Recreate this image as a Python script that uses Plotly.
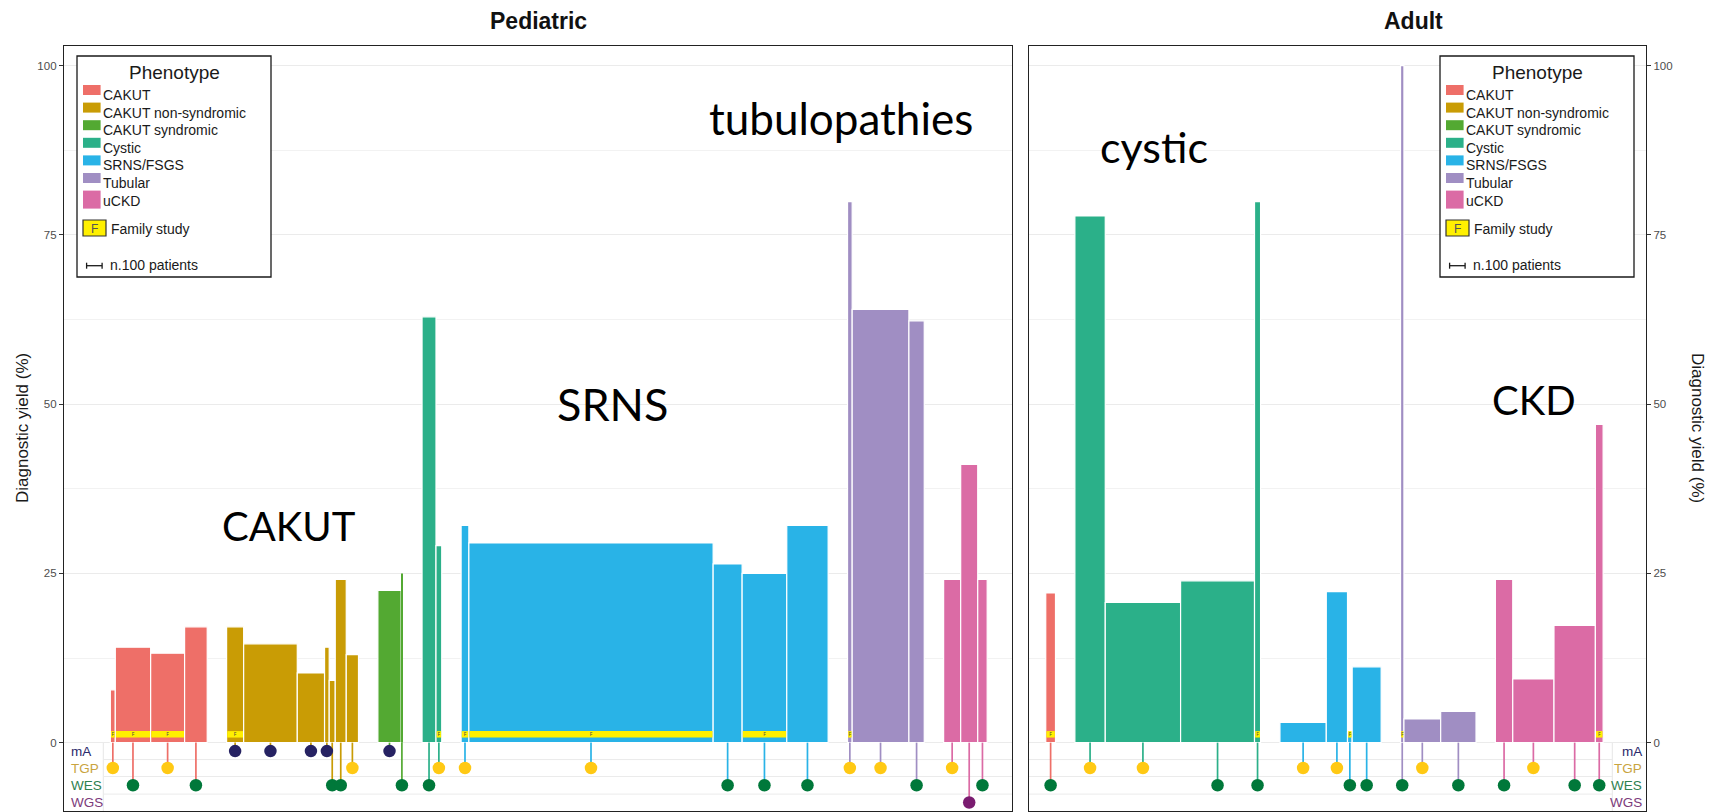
import plotly.graph_objects as go

W, H = 1717, 812

# ---------------- data ----------------
phenotypes = ["CAKUT", "CAKUT non-syndromic", "CAKUT syndromic", "Cystic",
              "SRNS/FSGS", "Tubular", "uCKD"]
pheno_colors = ["#EE6F68", "#C99C05", "#53A932", "#2BB089",
                "#29B3E7", "#A08EC3", "#DB6BA5"]

methods = ["mA", "TGP", "WES", "WGS"]
method_colors = ["#262262", "#FFC914", "#00783A", "#7A1C70"]
method_label_colors = ["#2B2A6B", "#C9A43F", "#2E8050", "#7C3A7B"]
method_rows = [-1.25, -3.75, -6.3, -8.85]

# Pediatric studies (in plotting order)
ped_pheno = (["CAKUT"] * 4 + ["CAKUT non-syndromic"] * 7 + ["CAKUT syndromic"] * 2 +
             ["Cystic"] * 2 + ["SRNS/FSGS"] * 5 + ["Tubular"] * 3 + ["uCKD"] * 3)
ped_n = [32, 228, 219, 146,
         110, 346, 176, 30, 39, 71, 79,
         150, 10,
         90, 37,
         50, 1576, 187, 288, 267,
         30, 366, 99,
         110, 110, 61]
ped_yield = [7.8, 14.1, 13.2, 17.1,
             17.1, 14.6, 10.3, 14.1, 9.2, 24.1, 13.0,
             22.5, 25.0,
             62.9, 29.1,
             32.1, 29.5, 26.4, 25.0, 32.1,
             79.9, 64.0, 62.3,
             24.1, 41.1, 24.1]
ped_method = ["TGP", "WES", "TGP", "WES",
              "mA", "mA", "mA", "mA", "WES", "WES", "TGP",
              "mA", "WES",
              "WES", "TGP",
              "TGP", "TGP", "WES", "WES", "WES",
              "TGP", "TGP", "WES",
              "TGP", "WGS", "WES"]
ped_family = [1, 1, 1, 0,
              1, 0, 0, 0, 0, 0, 0,
              0, 0,
              0, 1,
              1, 1, 0, 1, 0,
              1, 0, 0,
              0, 0, 0]

# Adult studies
adult_pheno = (["CAKUT"] * 1 + ["Cystic"] * 4 + ["SRNS/FSGS"] * 4 +
               ["Tubular"] * 3 + ["uCKD"] * 4)
adult_n = [63,
           196, 486, 477, 39,
           299, 137, 30, 187,
           22, 237, 228,
           112, 266, 267, 50]
adult_yield = [22.1,
               77.8, 20.7, 23.9, 79.9,
               3.0, 22.3, 1.5, 11.2,
               100.0, 3.5, 4.6,
               24.1, 9.4, 17.3, 47.0]
adult_method = ["WES",
                "TGP", "TGP", "WES", "WES",
                "TGP", "TGP", "WES", "WES",
                "WES", "TGP", "WES",
                "WES", "TGP", "WES", "WES"]
adult_family = [1,
                0, 0, 0, 1,
                0, 0, 1, 0,
                1, 0, 0,
                0, 0, 0, 1]

annot_texts = ["CAKUT", "SRNS", "tubulopathies", "cystic", "CKD"]

# ---------------- layout constants ----------------
PX_PER_PATIENT = 0.155
GROUP_GAP = 125  # patients-units spacing between phenotype groups
Y_RANGE = [-10.1, 102.9]

panels = [
    dict(title="Pediatric", pheno=ped_pheno, n=ped_n, yld=ped_yield,
         meth=ped_method, fam=ped_family, xa="x", ya="y",
         px0=64, px1=1012, lead=299, labels_side="left"),
    dict(title="Adult", pheno=adult_pheno, n=adult_n, yld=adult_yield,
         meth=adult_method, fam=adult_family, xa="x2", ya="y2",
         px0=1029, px1=1646, lead=108, labels_side="right"),
]


def pxx(v):
    return v / W


def pxy(v):
    return 1 - v / H


def lefts_of(phenos, ns):
    out, x, prev = [], 0.0, None
    for p, n in zip(phenos, ns):
        if prev is not None and p != prev:
            x += GROUP_GAP
        out.append(x)
        x += n
        prev = p
    return out


fig = go.Figure()
shapes, annotations = [], []

for pn in panels:
    ls = lefts_of(pn["pheno"], pn["n"])
    cs = [l + n / 2 for l, n in zip(ls, pn["n"])]
    cols = [pheno_colors[phenotypes.index(p)] for p in pn["pheno"]]
    lw = [1.2 if n * PX_PER_PATIENT >= 3 else 0 for n in pn["n"]]
    # stems
    for ph, col in zip(phenotypes, pheno_colors):
        xs, ys = [], []
        for c, p, m in zip(cs, pn["pheno"], pn["meth"]):
            if p == ph:
                xs += [c, c, None]
                ys += [0, method_rows[methods.index(m)], None]
        if xs:
            fig.add_trace(go.Scatter(x=xs, y=ys, mode="lines",
                                     line=dict(color=col, width=1.7),
                                     xaxis=pn["xa"], yaxis=pn["ya"],
                                     hoverinfo="skip"))
    # bars
    fig.add_trace(go.Bar(x=cs, y=pn["yld"], base=0, width=pn["n"],
                         marker=dict(color=cols, line=dict(color="white", width=lw)),
                         xaxis=pn["xa"], yaxis=pn["ya"]))
    # family-study bands
    fx = [c for c, f in zip(cs, pn["fam"]) if f]
    fw = [max(n - 8, n * 0.5) for n, f in zip(pn["n"], pn["fam"]) if f]
    fig.add_trace(go.Bar(x=fx, y=[0.95] * len(fx), base=[0.75] * len(fx), width=fw,
                         marker=dict(color="#FFF000", line=dict(width=0)),
                         xaxis=pn["xa"], yaxis=pn["ya"]))
    fig.add_trace(go.Scatter(x=fx, y=[1.2] * len(fx), mode="text", text=["F"] * len(fx),
                             textfont=dict(size=5, color="#444"),
                             xaxis=pn["xa"], yaxis=pn["ya"], hoverinfo="skip"))
    # dots
    for m, mc in zip(methods, method_colors):
        xs = [c for c, mm in zip(cs, pn["meth"]) if mm == m]
        if xs:
            fig.add_trace(go.Scatter(x=xs, y=[method_rows[methods.index(m)]] * len(xs),
                                     mode="markers",
                                     marker=dict(color=mc, size=12.5, line=dict(width=0)),
                                     xaxis=pn["xa"], yaxis=pn["ya"], hoverinfo="skip"))
    # strip row lines and labels
    if pn["labels_side"] == "left":
        sep = pn["px0"] + 39.3
        lx0, lx1 = sep, pn["px1"]
    else:
        sep = pn["px1"] - 33.7
        lx0, lx1 = pn["px0"], sep
    shapes.append(dict(type="line", xref="paper", yref=pn["ya"], x0=pxx(sep), x1=pxx(sep),
                       y0=0, y1=Y_RANGE[0], line=dict(color="#e6e6e6", width=1), layer="below"))
    for yb in [-2.5, -5.0, -7.6]:
        shapes.append(dict(type="line", xref="paper", yref=pn["ya"], x0=pxx(lx0), x1=pxx(lx1),
                           y0=yb, y1=yb, line=dict(color="#ebebeb", width=1), layer="below"))
    for m, lc, ry in zip(methods, method_label_colors, method_rows):
        if pn["labels_side"] == "left":
            annotations.append(dict(x=pxx(pn["px0"] + 5), y=ry, xref="paper", yref=pn["ya"],
                                    text=m, showarrow=False, xanchor="left", yanchor="middle",
                                    font=dict(family="Liberation Sans", size=13.5, color=lc)))
        else:
            annotations.append(dict(x=pxx(pn["px1"] - 2), y=ry, xref="paper", yref=pn["ya"],
                                    text=m, showarrow=False, xanchor="right", yanchor="middle",
                                    font=dict(family="Liberation Sans", size=13.5, color=lc)))
    # panel title
    tx = {"Pediatric": 538, "Adult": 1413}[pn["title"]]
    annotations.append(dict(x=pxx(tx), y=pxy(21), xref="paper", yref="paper",
                            text="<b>%s</b>" % pn["title"], showarrow=False,
                            xanchor="center", yanchor="middle",
                            font=dict(family="Liberation Sans", size=23, color="#111")))


# ---------------- legends ----------------
def add_legend(bx):
    shapes.append(dict(type="rect", xref="paper", yref="paper", x0=pxx(bx), x1=pxx(bx + 194),
                       y0=pxy(277), y1=pxy(56), line=dict(color="#1a1a1a", width=1.3),
                       fillcolor="white", layer="above"))
    annotations.append(dict(x=pxx(bx + 97), y=pxy(72), xref="paper", yref="paper",
                            text="Phenotype", showarrow=False, xanchor="center", yanchor="middle",
                            font=dict(family="Liberation Sans", size=19, color="#1a1a1a")))
    for i, (ph, col) in enumerate(zip(phenotypes, pheno_colors)):
        top = 85 + 17.6 * i
        hgt = 18 if i == len(phenotypes) - 1 else 10
        shapes.append(dict(type="rect", xref="paper", yref="paper", x0=pxx(bx + 6),
                           x1=pxx(bx + 23.6), y0=pxy(top + hgt), y1=pxy(top),
                           fillcolor=col, line=dict(width=0), layer="above"))
        annotations.append(dict(x=pxx(bx + 23.6), y=pxy(top + 10), xref="paper", yref="paper",
                                text=ph, showarrow=False, xanchor="left", yanchor="middle",
                                font=dict(family="Liberation Sans", size=14, color="#1a1a1a")))
    shapes.append(dict(type="rect", xref="paper", yref="paper", x0=pxx(bx + 6), x1=pxx(bx + 29),
                       y0=pxy(236), y1=pxy(220), fillcolor="#FFF000",
                       line=dict(color="#333", width=1.2), layer="above"))
    annotations.append(dict(x=pxx(bx + 17.5), y=pxy(228.5), xref="paper", yref="paper",
                            text="F", showarrow=False, xanchor="center", yanchor="middle",
                            font=dict(family="Liberation Sans", size=12, color="#555")))
    annotations.append(dict(x=pxx(bx + 32), y=pxy(228.7), xref="paper", yref="paper",
                            text="Family study", showarrow=False, xanchor="left", yanchor="middle",
                            font=dict(family="Liberation Sans", size=14, color="#1a1a1a")))
    sb0 = bx + 9.6
    sb1 = sb0 + 100 * PX_PER_PATIENT
    ys = 265.7
    for (a, b, c, d) in [(sb0, ys, sb1, ys), (sb0, ys - 3, sb0, ys + 3), (sb1, ys - 3, sb1, ys + 3)]:
        shapes.append(dict(type="line", xref="paper", yref="paper", x0=pxx(a), y0=pxy(b),
                           x1=pxx(c), y1=pxy(d), line=dict(color="#1a1a1a", width=1.3),
                           layer="above"))
    annotations.append(dict(x=pxx(bx + 31.3), y=pxy(265), xref="paper", yref="paper",
                            text="n.100 patients", showarrow=False, xanchor="left",
                            yanchor="middle",
                            font=dict(family="Liberation Sans", size=14, color="#1a1a1a")))


add_legend(77)
add_legend(1440)

# ---------------- overlay texts ----------------
overlay_pos = [(289, 526, 40), (612, 404, 45), (841, 118, 44), (1154, 146, 43), (1534, 400, 40)]
for t, (x, y, s) in zip(annot_texts, overlay_pos):
    annotations.append(dict(x=pxx(x), y=pxy(y), xref="paper", yref="paper", text=t,
                            showarrow=False, xanchor="center", yanchor="middle",
                            font=dict(family="Lato", size=s, color="black")))

# axis titles
annotations.append(dict(x=pxx(22), y=pxy(428), xref="paper", yref="paper",
                        text="Diagnostic yield (%)", showarrow=False, textangle=-90,
                        xanchor="center", yanchor="middle",
                        font=dict(family="Liberation Sans", size=17, color="#1a1a1a")))
annotations.append(dict(x=pxx(1698), y=pxy(428), xref="paper", yref="paper",
                        text="Diagnostic yield (%)", showarrow=False, textangle=90,
                        xanchor="center", yanchor="middle",
                        font=dict(family="Liberation Sans", size=17, color="#1a1a1a")))

# ---------------- axes ----------------
common_x = dict(showticklabels=False, ticks="", showgrid=False, zeroline=False,
                showline=True, mirror=True, linecolor="#222", linewidth=1.3)
common_y = dict(range=Y_RANGE, tickvals=[0, 25, 50, 75, 100], ticks="outside", ticklen=4,
                tickcolor="#333", tickfont=dict(family="Liberation Sans", size=11.5, color="#4d4d4d"),
                showgrid=True, gridcolor="#ebebeb", gridwidth=1, zeroline=False,
                showline=True, mirror=True, linecolor="#222", linewidth=1.3,
                minor=dict(tickvals=[12.5, 37.5, 62.5, 87.5], showgrid=True,
                           gridcolor="#f2f2f2", gridwidth=0.8, ticks=""),
                domain=[1 - 811 / H, 1 - 46 / H])

p0, p1 = panels
fig.update_layout(
    width=W, height=H, margin=dict(l=0, r=0, t=0, b=0),
    paper_bgcolor="white", plot_bgcolor="white",
    showlegend=False, barmode="overlay",
    xaxis=dict(domain=[pxx(p0["px0"]), pxx(p0["px1"])],
               range=[-p0["lead"], -p0["lead"] + (p0["px1"] - p0["px0"]) / PX_PER_PATIENT],
               anchor="y", **common_x),
    xaxis2=dict(domain=[pxx(p1["px0"]), pxx(p1["px1"])],
                range=[-p1["lead"], -p1["lead"] + (p1["px1"] - p1["px0"]) / PX_PER_PATIENT],
                anchor="y2", **common_x),
    yaxis=dict(anchor="x", side="left", **common_y),
    yaxis2=dict(anchor="x2", side="right", **common_y),
    shapes=shapes, annotations=annotations,
)

fig.write_html("out.html")
